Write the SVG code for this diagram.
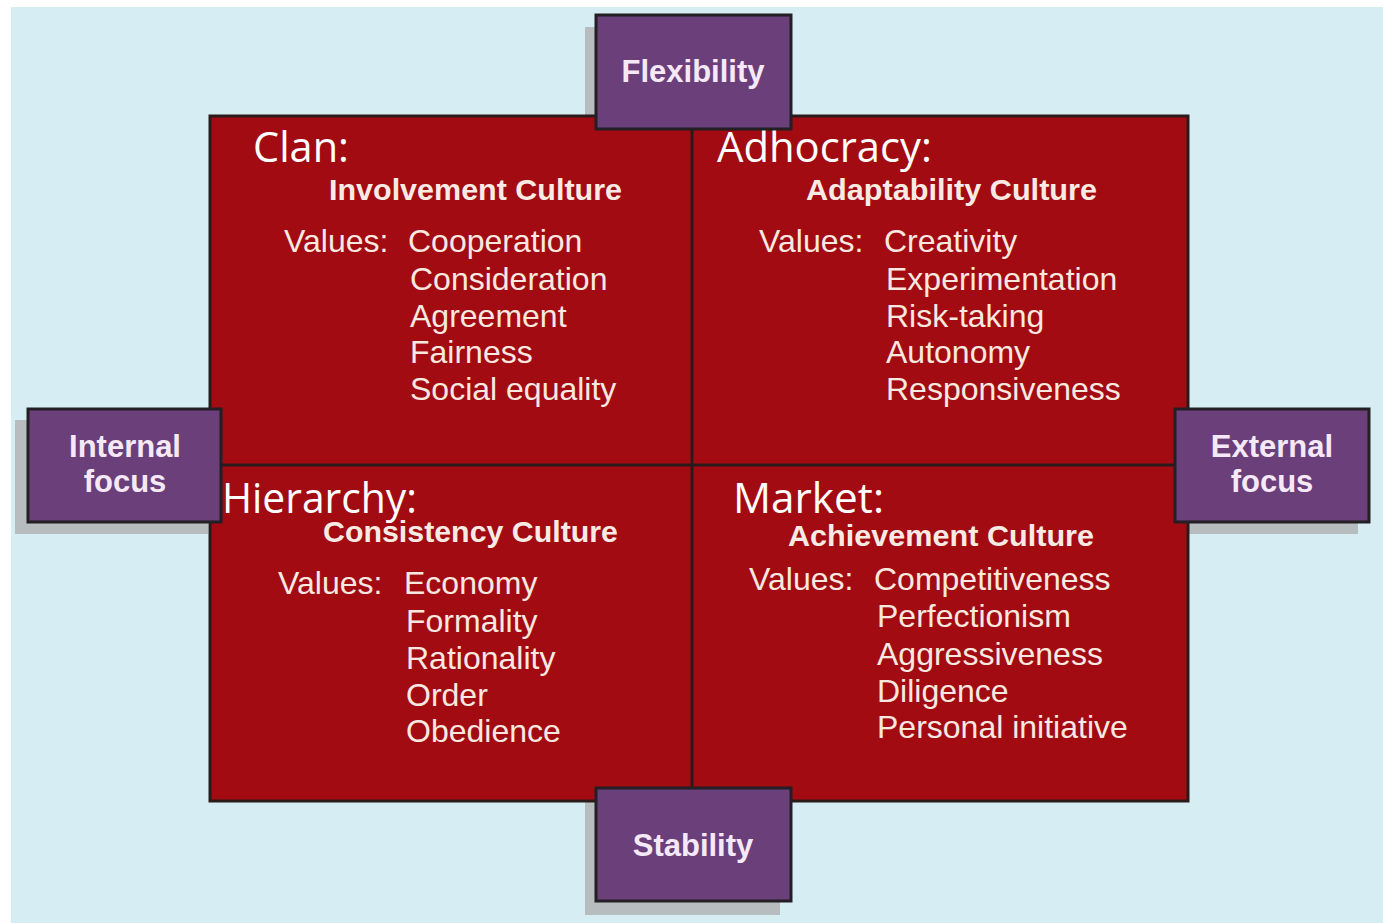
<svg xmlns="http://www.w3.org/2000/svg" width="1383" height="923" viewBox="0 0 1383 923">
<style>
.shadow{fill:#b7bcbf}
.box{fill:#6b3f7a;stroke:#231f24;stroke-width:3}
.boxt{font-family:"Liberation Sans",Arial,sans-serif;font-weight:bold;font-size:31px;fill:#f6e9f7;text-anchor:middle}
.quad{fill:#a20b12}
.line{stroke:#2b1a1a;stroke-width:3;fill:none}
.lab{font-family:"Open Sans","Liberation Sans",sans-serif;font-size:42px;fill:#ffffff}
.hd{font-family:"Liberation Sans",Arial,sans-serif;font-weight:bold;font-size:30px;fill:#f9ebe4}
.v{font-family:"Liberation Sans",Arial,sans-serif;font-size:32px;fill:#f7e8e0}
</style>
<rect x="0" y="0" width="1383" height="923" fill="#ffffff"/>
<rect x="11" y="7" width="1372" height="916" fill="#d6eef3"/>

<g id="shadows">
<rect class="shadow" x="585" y="27" width="195" height="115"/>
<rect class="shadow" x="15" y="420" width="193" height="114"/>
<rect class="shadow" x="1164" y="420" width="194" height="114"/>
<rect class="shadow" x="585" y="801" width="195" height="114"/>
</g>

<g id="grid">
<rect class="quad" x="210" y="116" width="978" height="685"/>
<rect class="line" x="210" y="116" width="978" height="685"/>
</g>

<g id="connectors">
<line class="line" x1="692" y1="116" x2="692" y2="801"/>
<line class="line" x1="210" y1="465" x2="1188" y2="465"/>
</g>

<g id="clan">
<text class="lab" x="253" y="162" textLength="96" lengthAdjust="spacingAndGlyphs">Clan:</text>
<text class="hd" x="329" y="200" textLength="293" lengthAdjust="spacingAndGlyphs">Involvement Culture</text>
<text class="v" x="284" y="252">Values:</text>
<text class="v" x="408" y="252">Cooperation</text>
<text class="v" x="410" y="290">Consideration</text>
<text class="v" x="410" y="327">Agreement</text>
<text class="v" x="410" y="363">Fairness</text>
<text class="v" x="410" y="400">Social equality</text>
</g>

<g id="adhocracy">
<text class="lab" x="717" y="162" textLength="215" lengthAdjust="spacingAndGlyphs">Adhocracy:</text>
<text class="hd" x="806" y="200" textLength="291" lengthAdjust="spacingAndGlyphs">Adaptability Culture</text>
<text class="v" x="759" y="252">Values:</text>
<text class="v" x="884" y="252">Creativity</text>
<text class="v" x="886" y="290">Experimentation</text>
<text class="v" x="886" y="327">Risk-taking</text>
<text class="v" x="886" y="363">Autonomy</text>
<text class="v" x="886" y="400">Responsiveness</text>
</g>

<g id="hierarchy">
<text class="lab" x="222" y="513" textLength="195" lengthAdjust="spacingAndGlyphs">Hierarchy:</text>
<text class="hd" x="323" y="542" textLength="295" lengthAdjust="spacingAndGlyphs">Consistency Culture</text>
<text class="v" x="278" y="594">Values:</text>
<text class="v" x="404" y="594">Economy</text>
<text class="v" x="406" y="632">Formality</text>
<text class="v" x="406" y="669">Rationality</text>
<text class="v" x="406" y="706">Order</text>
<text class="v" x="406" y="742">Obedience</text>
</g>

<g id="market">
<text class="lab" x="733" y="513" textLength="151" lengthAdjust="spacingAndGlyphs">Market:</text>
<text class="hd" x="788" y="546" textLength="306" lengthAdjust="spacingAndGlyphs">Achievement Culture</text>
<text class="v" x="749" y="590">Values:</text>
<text class="v" x="874" y="590">Competitiveness</text>
<text class="v" x="877" y="627">Perfectionism</text>
<text class="v" x="877" y="665">Aggressiveness</text>
<text class="v" x="877" y="702">Diligence</text>
<text class="v" x="877" y="738">Personal initiative</text>
</g>

<g id="flexibility">
<rect class="box" x="596" y="15" width="195" height="114"/>
<text class="boxt" x="693" y="82">Flexibility</text>
</g>
<g id="internal-focus">
<rect class="box" x="28" y="409" width="193" height="113"/>
<text class="boxt" x="125" y="457">Internal</text>
<text class="boxt" x="125" y="492">focus</text>
</g>
<g id="external-focus">
<rect class="box" x="1175" y="409" width="194" height="113"/>
<text class="boxt" x="1272" y="457">External</text>
<text class="boxt" x="1272" y="492">focus</text>
</g>
<g id="stability">
<rect class="box" x="596" y="788" width="195" height="113"/>
<text class="boxt" x="693" y="856">Stability</text>
</g>
</svg>
